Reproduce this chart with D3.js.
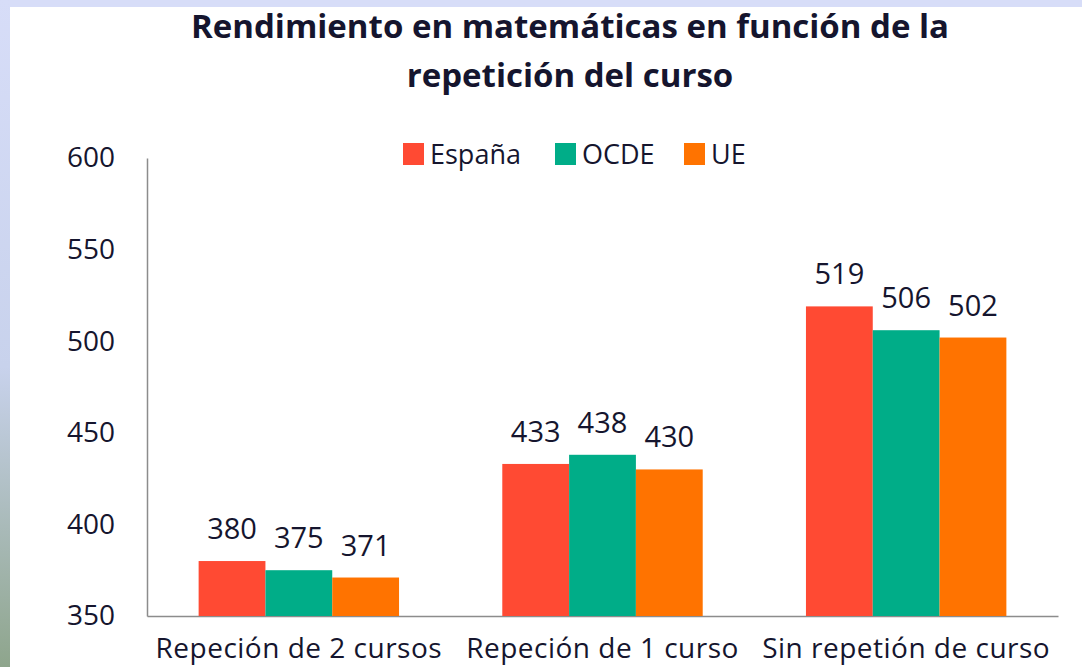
<!DOCTYPE html>
<html>
<head>
<meta charset="utf-8">
<script src="https://cdn.jsdelivr.net/npm/d3@7"></script>
<style>
  body { margin: 0; background: #d7ddf8; }
  svg { display: block; }
  text { font-family: "Open Sans", "Lato", sans-serif; fill: #15152e; }
</style>
</head>
<body>
<svg id="chart"></svg>
<script>
// ==============================
// Chart data
// ==============================
var categories = ["Repeción de 2 cursos", "Repeción de 1 curso", "Sin repetión de curso"];
var seriesNames = ["España", "OCDE", "UE"];
var espana = [380, 433, 519];
var ocde = [375, 438, 506];
var ue = [371, 430, 502];
var yTicks = [350, 400, 450, 500, 550, 600];
var titleLines = ["Rendimiento en matemáticas en función de la", "repetición del curso"];

var seriesValues = [espana, ocde, ue];
var colors = ["#ff4a33", "#00ad88", "#ff7300"];

// ==============================
// Setup SVG
// ==============================
var svgWidth = 1082, svgHeight = 667;
var svg = d3.select("#chart")
  .attr("width", svgWidth)
  .attr("height", svgHeight);

// slide background: lavender frame + gradient strip on the left
var grad = svg.append("defs").append("linearGradient")
  .attr("id", "strip").attr("x1", 0).attr("y1", 0).attr("x2", 0).attr("y2", 1);
grad.append("stop").attr("offset", "0%").attr("stop-color", "#d7ddf8");
grad.append("stop").attr("offset", "55%").attr("stop-color", "#c8d2ec");
grad.append("stop").attr("offset", "100%").attr("stop-color", "#8ea58c");

svg.append("rect").attr("width", svgWidth).attr("height", svgHeight).attr("fill", "#d7ddf8");
svg.append("rect").attr("x", 0).attr("y", 0).attr("width", 10).attr("height", svgHeight)
  .attr("fill", "url(#strip)");
svg.append("rect").attr("x", 10).attr("y", 7).attr("width", svgWidth - 10).attr("height", svgHeight - 7)
  .attr("fill", "#ffffff");

// ==============================
// Scales
// ==============================
var x0 = d3.scaleBand()
  .domain(categories)
  .range([147, 1058])
  .paddingInner(0.34)
  .paddingOuter(0.17);

var x1 = d3.scaleBand()
  .domain(seriesNames)
  .range([0, x0.bandwidth()]);

var y = d3.scaleLinear()
  .domain([350, 600])
  .range([616, 158]);

// ==============================
// Axes
// ==============================
var yAxis = d3.axisLeft(y).tickValues(yTicks).tickSize(0).tickPadding(32);
var gy = svg.append("g").attr("transform", "translate(147,0)").call(yAxis);
gy.select(".domain").attr("stroke", "#8c8c8c").attr("stroke-width", 1.5);
gy.selectAll(".tick text")
  .style("font-size", "28px")
  .attr("fill", "#15152e");

var xAxis = d3.axisBottom(x0).tickSize(0).tickPadding(22).tickSizeOuter(0);
var gx = svg.append("g").attr("transform", "translate(0,616)").call(xAxis);
gx.select(".domain").attr("stroke", "#8c8c8c").attr("stroke-width", 1.5);
gx.selectAll(".tick text")
  .style("font-size", "28px")
  .style("letter-spacing", "0.5px")
  .attr("fill", "#15152e");

// ==============================
// Bars + labels
// ==============================
var groups = svg.selectAll(".group")
  .data(categories)
  .enter().append("g")
  .attr("class", "group")
  .attr("transform", d => `translate(${x0(d)},0)`);

groups.selectAll("rect")
  .data((d, i) => seriesNames.map((s, j) => ({ s: s, v: seriesValues[j][i], c: colors[j] })))
  .enter().append("rect")
  .attr("x", d => x1(d.s))
  .attr("y", d => y(d.v))
  .attr("width", x1.bandwidth())
  .attr("height", d => y(350) - y(d.v))
  .attr("fill", d => d.c);

groups.selectAll(".val")
  .data((d, i) => seriesNames.map((s, j) => ({ s: s, v: seriesValues[j][i] })))
  .enter().append("text")
  .attr("class", "val")
  .attr("x", d => x1(d.s) + x1.bandwidth() / 2)
  .attr("y", d => y(d.v) - 22)
  .attr("text-anchor", "middle")
  .style("font-size", "29px")
  .text(d => d.v);

// ==============================
// Title
// ==============================
svg.selectAll(".title")
  .data(titleLines)
  .enter().append("text")
  .attr("class", "title")
  .attr("x", 570)
  .attr("y", (d, i) => 38 + i * 49)
  .attr("text-anchor", "middle")
  .style("font-size", "33px")
  .style("font-weight", "bold")
  .text(d => d);

// ==============================
// Legend
// ==============================
var legendX = [403, 555, 684];
var legend = svg.selectAll(".legend")
  .data(seriesNames)
  .enter().append("g")
  .attr("class", "legend")
  .attr("transform", (d, i) => `translate(${legendX[i]},143)`);

legend.append("rect")
  .attr("width", 21).attr("height", 22)
  .attr("fill", (d, i) => colors[i]);

legend.append("text")
  .attr("x", 27).attr("y", 21)
  .style("font-size", "27px")
  .text(d => d);
</script>
</body>
</html>
